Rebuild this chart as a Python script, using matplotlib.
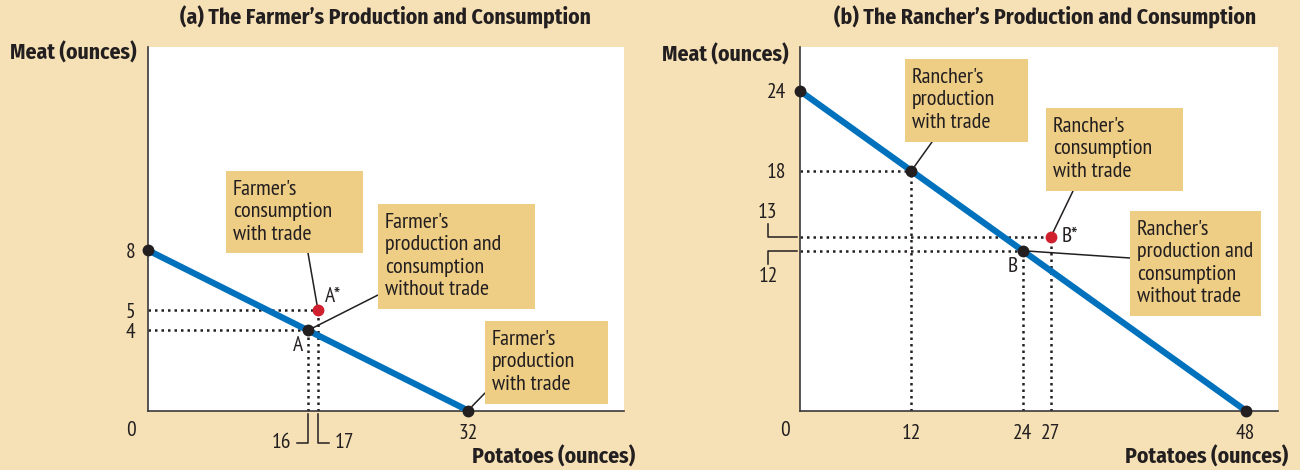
import matplotlib
matplotlib.use("Agg")
import matplotlib.pyplot as plt
from matplotlib import font_manager as fm
from matplotlib.patches import Rectangle

# ---------------- data ----------------
farmer_ppf_potatoes = [0, 32]
farmer_ppf_meat = [8, 0]
farmer_points_x = [0, 16, 32]
farmer_points_y = [8, 4, 0]
farmer_trade_x = [17]
farmer_trade_y = [5]
farmer_yticks = [8, 5, 4]
farmer_xticks = [32]
farmer_bracket_xticks = [16, 17]

rancher_ppf_potatoes = [0, 48]
rancher_ppf_meat = [24, 0]
rancher_points_x = [0, 12, 24, 48]
rancher_points_y = [24, 18, 12, 0]
rancher_trade_x = [27]
rancher_trade_y = [13]
rancher_yticks = [24, 18]
rancher_xticks = [12, 24, 27, 48]
rancher_bracket_yticks = [13, 12]

# ---------------- fonts ----------------
names = {f.name for f in fm.fontManager.ttflist}
def pick(cands):
    for c in cands:
        if c in names:
            return c
    return "DejaVu Sans"
REG = pick(["PT Sans Narrow", "Roboto Condensed", "Fira Sans Condensed"])
BOLD = pick(["Fira Sans Condensed", "Roboto Condensed", "PT Sans Narrow"])
FONT = dict(family=[REG, "DejaVu Sans"])
BFONT = dict(family=[BOLD, "DejaVu Sans"], fontweight="bold")
FS = 15.5      # tick / point labels
FSBOX = 16     # box text
FSB = 15.6     # bold text

BG = "#F5E1B5"
BOX = "#EECD85"
BLUE = "#0071BC"
RED = "#D0202E"
DARK = "#231F20"

W, H = 1300, 470
fig = plt.figure(figsize=(13, 4.7), dpi=100, facecolor=BG)

def fx(px):
    return px / W

def fy(py):
    return 1 - py / H

def make_axes(x0, x1, y0, y1):
    ax = fig.add_axes([fx(x0), fy(y1), fx(x1) - fx(x0), fy(y0) - fy(y1)])
    ax.set_facecolor("white")
    for s in ["top", "right"]:
        ax.spines[s].set_visible(False)
    for s in ["left", "bottom"]:
        ax.spines[s].set_color("#3a3a3a")
        ax.spines[s].set_linewidth(1.2)
    ax.tick_params(length=0, labelsize=FS, colors=DARK)
    return ax

def style_ticks(ax):
    for lab in ax.get_xticklabels() + ax.get_yticklabels():
        lab.set_fontfamily([REG, "DejaVu Sans"])
        lab.set_color(DARK)

def box(x0, y0, x1, y1, text):
    fig.patches.append(Rectangle((fx(x0), fy(y1)), fx(x1) - fx(x0), fy(y0) - fy(y1),
                                 transform=fig.transFigure, facecolor=BOX, edgecolor="none", zorder=5))
    fig.text(fx(x0 + 7), fy(y0 + 9), text, ha="left", va="top", fontsize=FSBOX, color=DARK,
             linespacing=1.22, zorder=6, **FONT)

def leader(ax, px, py, dx, dy):
    ax.annotate("", xy=(dx, dy), xycoords="data", xytext=(fx(px), fy(py)), textcoords="figure fraction",
                arrowprops=dict(arrowstyle="-", color=DARK, lw=1.1, shrinkA=0, shrinkB=4), zorder=4,
                annotation_clip=False)

dot_kw = dict(color=DARK, lw=1.8, linestyle=(0, (1, 1.6)), zorder=2)

# ================= panel (a) =================
ax1 = make_axes(148, 624, 47, 410.5)
ax1.set_xlim(0, 47.6)
ax1.set_ylim(0, 18.15)
ax1.plot(farmer_ppf_potatoes, farmer_ppf_meat, color=BLUE, lw=4.5, solid_capstyle="butt", zorder=3)
ax1.plot([0, farmer_trade_x[0]], [farmer_trade_y[0]] * 2, **dot_kw)
ax1.plot([farmer_trade_x[0]] * 2, [0, farmer_trade_y[0]], **dot_kw)
ax1.plot([0, farmer_points_x[1]], [farmer_points_y[1]] * 2, **dot_kw)
ax1.plot([farmer_points_x[1]] * 2, [0, farmer_points_y[1]], **dot_kw)
ax1.plot(farmer_points_x, farmer_points_y, "o", color=DARK, ms=7.5, zorder=6, clip_on=False)
ax1.plot(farmer_trade_x, farmer_trade_y, "o", color=RED, ms=7.5, zorder=6, clip_on=False)
ax1.set_yticks(farmer_yticks)
ax1.set_xticks(farmer_xticks)
ax1.tick_params(axis="y", pad=9)
ax1.tick_params(axis="x", pad=10)
style_ticks(ax1)
fig.text(fx(131), fy(430), "0", ha="center", va="center", fontsize=FS, color=DARK, **FONT)
for val, side in zip(farmer_bracket_xticks, [-1, 1]):
    ax1.plot([val, val, val + side * 1.1], [-0.15, -1.6, -1.6], color=DARK, lw=1.1, clip_on=False)
    ax1.text(val + side * 1.7, -1.6, str(val), ha="right" if side < 0 else "left", va="center",
             fontsize=FS, color=DARK, **FONT)
ax1.text(farmer_points_x[1] - 0.5, farmer_points_y[1] - 0.3, "A", ha="right", va="top", fontsize=FS, color=DARK, **FONT)
ax1.text(farmer_trade_x[0] + 0.7, farmer_trade_y[0] + 0.2, "A*", ha="left", va="bottom", fontsize=FS, color=DARK, **FONT)

fig.text(fx(386), fy(17), "(a) The Farmer\u2019s Production and Consumption", ha="center", va="center",
         fontsize=FSB, color=DARK, **BFONT)
fig.text(fx(137), fy(53), "Meat (ounces)", ha="right", va="center", fontsize=FSB, color=DARK, **BFONT)
fig.text(fx(635), fy(457), "Potatoes (ounces)", ha="right", va="center", fontsize=FSB, color=DARK, **BFONT)

box(226, 171, 363, 253, "Farmer's\nconsumption\nwith trade")
box(378, 204, 535, 309, "Farmer's\nproduction and\nconsumption\nwithout trade")
box(485, 321, 608, 404, "Farmer's\nproduction\nwith trade")
leader(ax1, 308, 253, farmer_trade_x[0], farmer_trade_y[0])
leader(ax1, 378, 295, farmer_points_x[1], farmer_points_y[1])
leader(ax1, 485, 393, farmer_points_x[2], farmer_points_y[2])

# ================= panel (b) =================
ax2 = make_axes(800, 1278, 47, 410.5)
ax2.set_xlim(0, 51.5)
ax2.set_ylim(0, 27.3)
ax2.plot(rancher_ppf_potatoes, rancher_ppf_meat, color=BLUE, lw=4.5, solid_capstyle="butt", zorder=3)
ax2.plot([0, rancher_points_x[1]], [rancher_points_y[1]] * 2, **dot_kw)
ax2.plot([rancher_points_x[1]] * 2, [0, rancher_points_y[1]], **dot_kw)
ax2.plot([0, rancher_trade_x[0]], [rancher_trade_y[0]] * 2, **dot_kw)
ax2.plot([rancher_trade_x[0]] * 2, [0, rancher_trade_y[0]], **dot_kw)
ax2.plot([0, rancher_points_x[2]], [rancher_points_y[2]] * 2, **dot_kw)
ax2.plot([rancher_points_x[2]] * 2, [0, rancher_points_y[2]], **dot_kw)
ax2.plot(rancher_points_x, rancher_points_y, "o", color=DARK, ms=7.5, zorder=6, clip_on=False)
ax2.plot(rancher_trade_x, rancher_trade_y, "o", color=RED, ms=7.5, zorder=6, clip_on=False)
ax2.set_yticks(rancher_yticks)
ax2.set_xticks(rancher_xticks)
ax2.tick_params(axis="y", pad=10)
ax2.tick_params(axis="x", pad=10)
style_ticks(ax2)
fig.text(fx(785), fy(430), "0", ha="center", va="center", fontsize=FS, color=DARK, **FONT)
for val, side in zip(rancher_bracket_yticks, [1, -1]):
    xa, xb = -3.45, -0.35
    yend = val + side * 1.0
    ax2.plot([xb, xa, xa], [val, val, yend], color=DARK, lw=1.1, clip_on=False)
    ax2.text(xa, val + side * 1.9, str(val), ha="center", va="center", fontsize=FS, color=DARK, **FONT)
ax2.text(rancher_points_x[2] - 0.5, rancher_points_y[2] - 0.45, "B", ha="right", va="top", fontsize=FS, color=DARK, **FONT)
ax2.text(rancher_trade_x[0] + 1.2, rancher_trade_y[0] + 0.1, "B*", ha="left", va="center", fontsize=FS, color=DARK, **FONT)

fig.text(fx(1045), fy(17), "(b) The Rancher\u2019s Production and Consumption", ha="center", va="center",
         fontsize=FSB, color=DARK, **BFONT)
fig.text(fx(789), fy(55), "Meat (ounces)", ha="right", va="center", fontsize=FSB, color=DARK, **BFONT)
fig.text(fx(1288), fy(457), "Potatoes (ounces)", ha="right", va="center", fontsize=FSB, color=DARK, **BFONT)

box(905, 59, 1028, 142, "Rancher's\nproduction\nwith trade")
box(1046, 108, 1183, 191, "Rancher's\nconsumption\nwith trade")
box(1130, 211, 1261, 316, "Rancher's\nproduction and\nconsumption\nwithout trade")
leader(ax2, 932, 142, rancher_points_x[1], rancher_points_y[1])
leader(ax2, 1073, 191, rancher_trade_x[0], rancher_trade_y[0])
leader(ax2, 1130, 258, rancher_points_x[2], rancher_points_y[2])

fig.savefig("out.png", dpi=100, facecolor=BG)
